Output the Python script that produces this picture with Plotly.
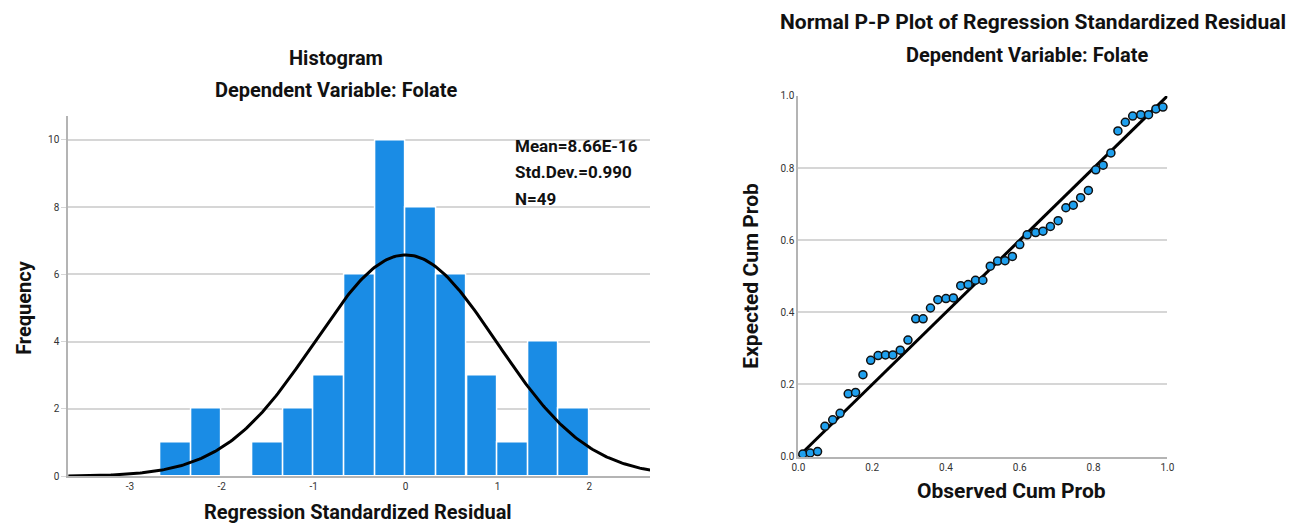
import numpy as np
import plotly.graph_objects as go

# ---------------- Data ----------------
# Histogram bins (left edges) and frequencies
bin_left = [-2.667, -2.333, -2.0, -1.667, -1.333, -1.0, -0.667, -0.333,
            0.0, 0.333, 0.667, 1.0, 1.333, 1.667]
bin_width = 0.3333
freq = [1, 2, 0, 1, 2, 3, 6, 10, 8, 6, 3, 1, 4, 2]

hist_mean = 8.66e-16
hist_sd = 0.990
hist_n = 49

hist_xticks = [-3, -2, -1, 0, 1, 2]
hist_yticks = [0, 2, 4, 6, 8, 10]

# P-P plot points
observed_cum = [0.012, 0.032, 0.052, 0.072, 0.093, 0.113, 0.135, 0.155, 0.175, 0.196,
                0.216, 0.236, 0.256, 0.276, 0.297, 0.318, 0.338, 0.358, 0.378, 0.400,
                0.420, 0.440, 0.460, 0.480, 0.500, 0.520, 0.540, 0.560, 0.580, 0.600,
                0.620, 0.643, 0.663, 0.683, 0.704, 0.725, 0.745, 0.765, 0.786, 0.806,
                0.826, 0.847, 0.866, 0.886, 0.906, 0.928, 0.949, 0.969, 0.988]
expected_cum = [0.007, 0.010, 0.014, 0.084, 0.102, 0.120, 0.174, 0.178, 0.227, 0.267,
                0.280, 0.282, 0.282, 0.295, 0.323, 0.382, 0.382, 0.412, 0.435, 0.438,
                0.440, 0.474, 0.477, 0.489, 0.489, 0.528, 0.542, 0.543, 0.555, 0.588,
                0.615, 0.621, 0.625, 0.638, 0.654, 0.690, 0.697, 0.718, 0.738, 0.795,
                0.808, 0.842, 0.903, 0.927, 0.944, 0.948, 0.948, 0.964, 0.969]
pp_ticks = [0.0, 0.2, 0.4, 0.6, 0.8, 1.0]

# ---------------- Figure ----------------
W, H = 1299, 532
FONT = "Roboto"
BAR_COLOR = "#1A8CE5"
GRID = "#d6d6d6"
AXIS = "#b4b4b4"

def px_x(p):
    return p / W

def px_y(p):
    return (H - p) / H

fig = go.Figure()

centers = [b + bin_width / 2 for b in bin_left]
fig.add_trace(go.Bar(
    x=centers, y=freq, width=[bin_width] * len(freq),
    marker=dict(color=BAR_COLOR, line=dict(color="white", width=1.5)),
    xaxis="x", yaxis="y", showlegend=False, hoverinfo="x+y"))

# Fitted normal curve from the displayed statistics
xs = np.linspace(-3.7, 2.7, 300)
ys = hist_n * bin_width / (hist_sd * np.sqrt(2 * np.pi)) * np.exp(-0.5 * ((xs - hist_mean) / hist_sd) ** 2)
fig.add_trace(go.Scatter(x=xs, y=ys, mode="lines", line=dict(color="black", width=3),
                         xaxis="x", yaxis="y", showlegend=False, hoverinfo="skip"))

# P-P plot
fig.add_trace(go.Scatter(x=[0, 1], y=[0, 1], mode="lines", line=dict(color="black", width=3),
                         xaxis="x2", yaxis="y2", showlegend=False, hoverinfo="skip"))
fig.add_trace(go.Scatter(x=observed_cum, y=expected_cum, mode="markers",
                         marker=dict(color="#1FA0EE", size=8, line=dict(color="#111111", width=1.5)),
                         xaxis="x2", yaxis="y2", showlegend=False, cliponaxis=False))

tickfont = dict(family=FONT, size=10, color="#333333")

fig.update_layout(
    width=W, height=H,
    margin=dict(l=0, r=0, t=0, b=0),
    paper_bgcolor="white", plot_bgcolor="white",
    bargap=0,
    xaxis=dict(domain=[px_x(62), px_x(650)], range=[-3.67, 2.66],
               tickvals=hist_xticks, ticktext=[str(v) for v in hist_xticks],
               showgrid=False, zeroline=False, showline=True, linecolor=AXIS, linewidth=2,
               ticks="", tickfont=tickfont, anchor="y"),
    yaxis=dict(domain=[px_y(481), px_y(113)], range=[0, 10.7],
               tickvals=hist_yticks, ticktext=[str(v) for v in hist_yticks],
               showgrid=True, gridcolor=GRID, gridwidth=2, zeroline=False,
               showline=True, linecolor=AXIS, linewidth=2,
               ticks="outside", ticklen=5, tickcolor=GRID, tickfont=tickfont, anchor="x"),
    xaxis2=dict(domain=[px_x(800), px_x(1173)], range=[0, 1],
                tickvals=pp_ticks, ticktext=[f"{v:.1f}" for v in pp_ticks],
                showgrid=False, zeroline=False, showline=True, linecolor=AXIS, linewidth=2,
                ticks="", tickfont=tickfont, anchor="y2"),
    yaxis2=dict(domain=[px_y(461), px_y(92)], range=[0, 1],
                tickvals=pp_ticks, ticktext=[f"{v:.1f}" for v in pp_ticks],
                showgrid=True, gridcolor=GRID, gridwidth=2, zeroline=False,
                showline=True, linecolor=AXIS, linewidth=2,
                ticks="", tickfont=tickfont, anchor="x2"),
)

def txt(text, x, y, size, angle=0, xanchor="center"):
    fig.add_annotation(text=text, x=px_x(x), y=px_y(y), xref="paper", yref="paper",
                       showarrow=False, textangle=angle, xanchor=xanchor, yanchor="middle",
                       font=dict(family=FONT, size=size, color="#111111"))

# Titles
txt("<b>Histogram</b>", 333, 53, 20)
txt("<b>Dependent Variable: Folate</b>", 333, 86, 20)
txt("<b>Normal P-P Plot of Regression Standardized Residual</b>", 1037, 16, 21)
txt("<b>Dependent Variable: Folate</b>", 1031, 50, 20)

# Axis titles
txt("<b>Frequency</b>", 17, 308, 20, angle=-90)
txt("<b>Regression Standardized Residual</b>", 355, 518, 20)
txt("<b>Expected Cum Prob</b>", 752, 276, 21, angle=-90)
txt("<b>Observed Cum Prob</b>", 1015, 496, 21)

# Stats box
txt(f"<b>Mean={hist_mean:.2E}</b>", 512, 143, 17, xanchor="left")
txt(f"<b>Std.Dev.={hist_sd:.3f}</b>", 512, 170, 17, xanchor="left")
txt(f"<b>N={hist_n}</b>", 512, 197, 17, xanchor="left")

# remove default page margin so the figure sits at the window's top-left corner
fig.write_html("out.html", config={"displayModeBar": False},
               post_script="document.body.style.margin='0';")
